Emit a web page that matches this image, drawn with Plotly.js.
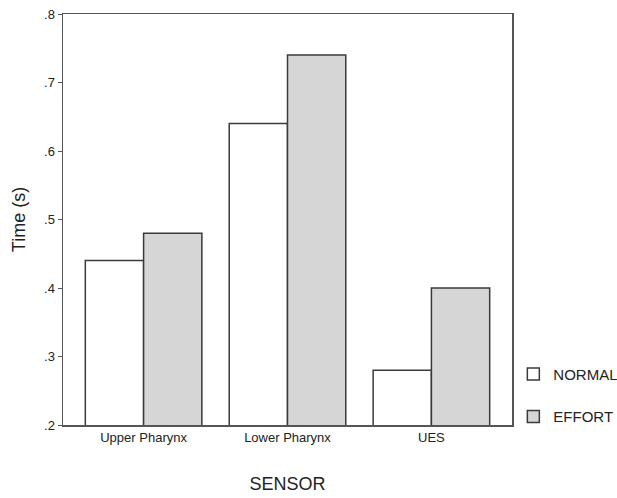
<!DOCTYPE html>
<html>
<head>
<meta charset="utf-8">
<script src="https://cdn.plot.ly/plotly-3.0.1.min.js"></script>
<style>html,body{margin:0;padding:0;background:#fff;}#chart{width:617px;height:498px;}</style>
</head>
<body>
<div id="chart"></div>
<script>
const categories = ["Upper Pharynx", "Lower Pharynx", "UES"];
const normalValues = [0.44, 0.64, 0.28];
const effortValues = [0.48, 0.74, 0.40];
const yTickVals = [0.2, 0.3, 0.4, 0.5, 0.6, 0.7, 0.8];
const yTickText = [".2", ".3", ".4", ".5", ".6", ".7", ".8"];

const font = {family: "Liberation Sans, Arial, sans-serif", color: "#222"};
const traces = [
  {type: "bar", name: "NORMAL", legendgroup: "n", x: categories, y: normalValues,
   marker: {color: "#ffffff", line: {color: "#3a3a3a", width: 1.5}}},
  {type: "bar", name: "EFFORT", legendgroup: "e", x: categories, y: effortValues,
   marker: {color: "#d6d6d6", line: {color: "#3a3a3a", width: 1.5}}}
];
const layout = {
  width: 617, height: 498,
  margin: {l: 63, r: 105, t: 14, b: 73, autoexpand: false},
  paper_bgcolor: "#fff", plot_bgcolor: "#fff",
  barmode: "group", bargap: 0.19, bargroupgap: 0,
  font: Object.assign({size: 13}, font),
  showlegend: true,
  legend: {x: 1.003, y: -0.019, xanchor: "left", yanchor: "bottom",
           font: Object.assign({size: 15}, font), itemwidth: 30, tracegroupgap: 20,
           traceorder: "grouped", bgcolor: "rgba(0,0,0,0)"},
  xaxis: {
    type: "category", range: [-0.56, 2.56],
    showline: true, linecolor: "#555", linewidth: 1.5, mirror: true,
    ticks: "", showgrid: false, zeroline: false,
    tickfont: Object.assign({size: 13}, font),
    title: {text: "SENSOR", font: Object.assign({size: 18}, font), standoff: 33}
  },
  yaxis: {
    range: [0.2, 0.8], tickvals: yTickVals, ticktext: yTickText,
    showline: true, linecolor: "#555", linewidth: 1.5, mirror: true,
    ticks: "outside", ticklen: 4, tickcolor: "#555", showgrid: false, zeroline: false,
    tickfont: Object.assign({size: 13}, font),
    title: {text: "Time (s)", font: Object.assign({size: 18}, font), standoff: 14}
  }
};
Plotly.newPlot("chart", traces, layout, {displayModeBar: false, staticPlot: true});
</script>
</body>
</html>
